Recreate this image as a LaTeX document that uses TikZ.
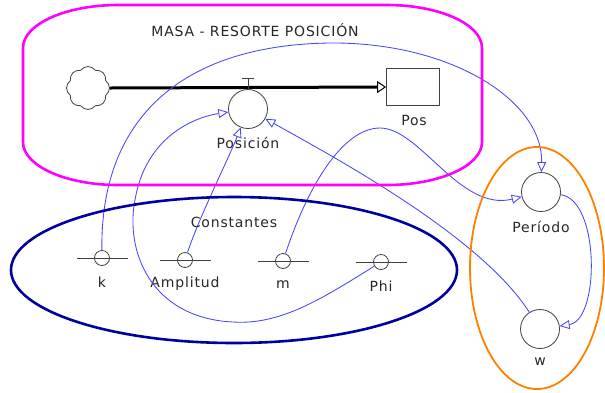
\documentclass[tikz,border=0pt]{standalone}
\usepackage{fontspec}
\setmainfont{DejaVu Sans}[LetterSpace=6]
\usepackage{tikz}
\usetikzlibrary{arrows.meta,shapes.symbols}
\definecolor{linkblue}{RGB}{70,70,250}
\definecolor{grpmag}{RGB}{255,0,255}
\definecolor{grpnavy}{RGB}{0,0,160}
\definecolor{grporange}{RGB}{255,128,0}
\tikzset{aux/.style={circle,draw=black!75,line width=0.8pt,fill=white,minimum size=39pt,inner sep=0pt},
  cst/.style={circle,draw=black!75,line width=0.8pt,minimum size=15pt,inner sep=0pt},
  lbl/.style={text=black!85,inner sep=0pt},
  link/.style={draw=linkblue,line width=0.85pt,->}}

\begin{document}
\begin{tikzpicture}[x=1pt,y=-1pt,>={Triangle[open,length=10pt,width=9pt]},line join=round,font=\fontsize{14}{16}\selectfont]
\useasboundingbox (0,0) rectangle (605,392);
% --- stock and flow
\node[cloud,cloud puffs=8,cloud puff arc=110,aspect=1,draw=black!75,line width=0.8pt,minimum size=43pt,inner sep=0pt] (src) at (88,88) {};
\node[draw=black!75,line width=0.8pt,minimum width=53pt,minimum height=37pt,inner sep=0pt] (pos) at (413,87) {};
\node[lbl] (pos-l) at (414,120) {Pos};
\draw[line width=3pt,-{Triangle[open,length=9pt,width=12pt,line width=1pt]}] (src.east) -- (pos.west);
\node[aux] (posicion) at (248,109) {};
\node[lbl] (posicion-l) at (248,143) {Posición};
\draw[line width=0.9pt,black!75] (posicion.north) -- ++(0,-11) ++(-6,0) -- ++(12,0);
% --- auxiliaries
\node[aux] (periodo) at (541,192) {};
\node[lbl] (periodo-l) at (541,227) {Período};
\node[aux] (w) at (540,329) {};
\node[lbl] (w-l) at (540,362) {w};
% --- constants
\foreach \n/\t/\x/\y in {k/k/102/258,amplitud/Amplitud/185/260,m/m/283/261,phi/Phi/381/262}{
  \node[cst] (\n) at (\x,\y) {};
  \draw[black!75,line width=0.8pt] (\x-25,\y) -- (\x+26,\y);
  \node[lbl] (\n-l) at (\x,\y+24) {\t};
}
% --- links
\draw[link] (k) .. controls (100,120) and (180,45) .. (330,43) .. controls (450,42) and (543,100) .. (periodo);
\draw[link] (amplitud) .. controls (200,215) and (228,160) .. (posicion);
\draw[link] (phi) .. controls (320,300) and (280,325) .. (233,322) .. controls (150,318) and (125,250) .. (135,200) .. controls (145,140) and (190,118) .. (posicion);
\draw[link] (m) .. controls (310,180) and (345,128) .. (380,128) .. controls (420,128) and (460,212) .. (periodo);
\draw[link] (w) .. controls (480,235) and (330,155) .. (posicion);
\draw[link] (periodo) .. controls (600,200) and (600,320) .. (w);
% --- groups
\draw[grpmag,line width=2.6pt] (118,5) -- (387,5) .. controls (439,5) and (482,24) .. (482,48) -- (482,142)
  .. controls (482,166) and (439,185) .. (387,185) -- (118,185) .. controls (66,185) and (23,166) .. (23,142)
  -- (23,48) .. controls (23,24) and (66,5) .. (118,5) -- cycle;
\node[lbl] (titulo) at (255,30) {MASA - RESORTE POSICIÓN};
\draw[grpnavy,line width=2.6pt] (234,270) ellipse[x radius=223pt,y radius=73pt];
\node[lbl] (const-l) at (234,222) {Constantes};
\draw[grporange,line width=1.8pt] (537,268) ellipse[x radius=67pt,y radius=121pt];
\end{tikzpicture}
\end{document}
